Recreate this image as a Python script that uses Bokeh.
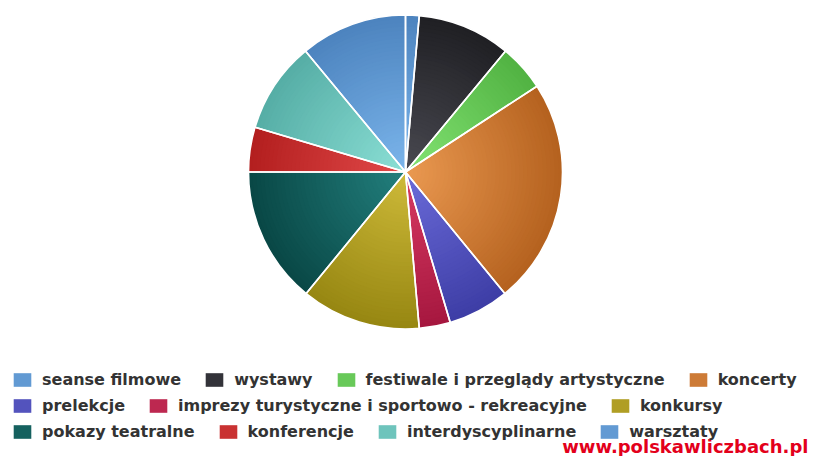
import numpy as np
from bokeh.plotting import figure
from bokeh.models import ColumnDataSource, Range1d, Legend, LegendItem, Label
from bokeh.embed import file_html
from bokeh.resources import INLINE

# ---- data ----
categories = [
    "seanse filmowe",
    "wystawy",
    "festiwale i przeglądy artystyczne",
    "koncerty",
    "prelekcje",
    "imprezy turystyczne i sportowo - rekreacyjne",
    "konkursy",
    "pokazy teatralne",
    "konferencje",
    "interdyscyplinarne",
    "warsztaty",
]
shares = [1.4, 9.6, 4.8, 23.3, 6.3, 3.2, 12.3, 14.1, 4.6, 9.4, 11.0]
legend_rows = [[0, 1, 2, 3], [4, 5, 6], [7, 8, 9, 10]]

# ---- styles ----
inner_colors = ["#7cb6ec", "#4a4a52", "#84e474", "#eb9a52", "#6c6cda", "#da3c64",
                "#cfbb3a", "#23807e", "#e34a4a", "#8ce0d6", "#7cb6ec"]
outer_colors = ["#4d84bf", "#202024", "#52b343", "#b5621f", "#3e3ea6", "#a6173f",
                "#978712", "#094846", "#b31f1f", "#56aea6", "#4d84bf"]

W, H = 814, 456
CX, CY, R = 405, H - 171.5, 157
N_RINGS = 40


def hex2rgb(h):
    h = h.lstrip("#")
    return np.array([int(h[i:i + 2], 16) for i in (0, 2, 4)], dtype=float)


def mix(a, b, t):
    c = hex2rgb(a) * (1 - t) + hex2rgb(b) * t
    return "#%02x%02x%02x" % tuple(int(round(v)) for v in c)


vals = np.array(shares, dtype=float)
frac = vals / vals.sum()
cum_end = np.cumsum(frac)
cum_start = cum_end - frac
start_ang = np.pi / 2 - cum_end * 2 * np.pi
end_ang = np.pi / 2 - cum_start * 2 * np.pi

rows = dict(x=[], y=[], r=[], s=[], e=[], c=[], cat=[])
legend_index = {}
for k in range(N_RINGS, 0, -1):
    t = k / N_RINGS
    for i in range(len(categories)):
        if k == int(N_RINGS * 0.55):
            legend_index[i] = len(rows["x"])
        rows["x"].append(CX)
        rows["y"].append(CY)
        rows["r"].append(R * t)
        rows["s"].append(start_ang[i])
        rows["e"].append(end_ang[i])
        rows["c"].append(mix(inner_colors[i], outer_colors[i], t))
        rows["cat"].append(categories[i])
src = ColumnDataSource(rows)

p = figure(width=W, height=H, x_range=Range1d(0, W), y_range=Range1d(0, H),
           output_backend="svg", toolbar_location=None, min_border=0,
           x_axis_location=None, y_axis_location=None)
p.grid.visible = False
p.outline_line_color = None
p.background_fill_color = "white"
p.border_fill_color = "white"

r_fill = p.wedge(x="x", y="y", radius="r", start_angle="s", end_angle="e",
                 fill_color="c", line_color=None, source=src)

border_src = ColumnDataSource(dict(x=[CX] * len(categories), y=[CY] * len(categories),
                                   s=list(start_ang), e=list(end_ang)))
p.wedge(x="x", y="y", radius=R, start_angle="s", end_angle="e", fill_color=None,
        line_color="white", line_width=1.6, source=border_src)

row_y = [67, 41, 15]
for ri, idxs in enumerate(legend_rows):
    items = [LegendItem(label=categories[i], renderers=[r_fill], index=legend_index[i]) for i in idxs]
    leg = Legend(items=items, orientation="horizontal", location=(11, row_y[ri]),
                 glyph_width=22, glyph_height=17, label_height=17, label_standoff=9,
                 spacing=22, padding=0, margin=0, border_line_color=None,
                 background_fill_alpha=0, label_text_font="DejaVu Sans",
                 label_text_font_style="bold", label_text_font_size="16px",
                 label_text_color="#333333")
    p.add_layout(leg)

p.add_layout(Label(x=W - 6, y=10, x_units="screen", y_units="screen",
                   text="www.polskawliczbach.pl", text_align="right",
                   text_baseline="alphabetic", text_color="#e3001b",
                   text_font="DejaVu Sans", text_font_style="bold",
                   text_font_size="18px"))

open("out.html", "w").write(file_html(p, INLINE))
